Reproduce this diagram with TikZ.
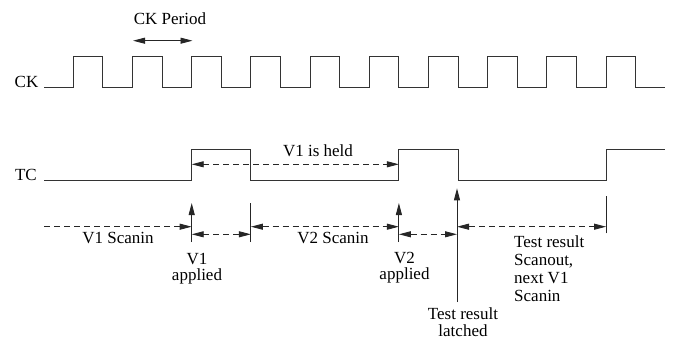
\documentclass[tikz,border=0pt]{standalone}
\usepackage{fontspec}
\setmainfont{Liberation Serif}
\usetikzlibrary{arrows.meta}
\begin{document}
\begin{tikzpicture}[x=1pt,y=-1pt,
  wave/.style={line width=0.9pt, draw=black!80},
  arr/.style={line width=0.9pt, draw=black!85, -{Triangle[length=12pt,width=6pt]}},
  plain/.style={line width=0.9pt, draw=black!85},
  dsh/.style={line width=0.9pt, draw=black!85, dash pattern=on 6pt off 4pt},
  both/.style={{Triangle[length=12pt,width=6pt]}-{Triangle[length=12pt,width=6pt]}},
  lbl/.style={font=\fontsize{17}{18}\selectfont, inner sep=0pt},
  ml/.style={inner sep=0pt, anchor=north, align=center, font=\fontsize{17}{#1}\selectfont}]
\useasboundingbox (0,0) rectangle (673,345);
% waveforms
\draw[wave] (44,87) \foreach \k in {0,...,9} { -- ({73.3+59.2*\k},87) -- ({73.3+59.2*\k},56) -- ({102.9+59.2*\k},56) -- ({102.9+59.2*\k},87) } -- (665,87);
\draw[wave] (44,180) -- (191.7,180) -- (191.7,149.3) -- (250.9,149.3) -- (250.9,180) -- (398.9,180) -- (398.9,149.3) -- (458.1,149.3) -- (458.1,180) -- (606.1,180) -- (606.1,149.3) -- (665,149.3);
% labels of signals
\node[lbl, anchor=base east] (ck) at (38.5,87.3) {CK};
\node[lbl, anchor=base east] (tc) at (37,180) {TC};
% CK period
\node[lbl, anchor=base] (ckp) at (170,25) {CK Period};
\coordinate (p1) at (133,40.7);
\coordinate (p2) at (192.5,40.7);
\draw[plain, both] (p1) -- (p2);
% V1 is held
\node[lbl, anchor=base] (held) at (318,156.5) {V1 is held};
\coordinate (h1) at (191.7,164.3);
\coordinate (h2) at (398.9,164.3);
\draw[dsh, both] (h1) -- (h2);
% coordinates on the lower row
\coordinate (s0) at (44,226.7);
\coordinate (s1) at (191.7,226.7);
\coordinate (s2) at (250.9,226.7);
\coordinate (s3) at (398.9,226.7);
\coordinate (s4) at (457,226.7);
\coordinate (s5) at (606.1,226.7);
\coordinate (a1) at (191.7,234.3);
\coordinate (a2) at (250.9,234.3);
\coordinate (a3) at (398.9,234.3);
\coordinate (a4) at (457,234.3);
% vertical markers
\coordinate (v1b) at (191.7,242);  \coordinate (v1t) at (191.7,203);
\coordinate (v2b) at (250.9,242);  \coordinate (v2t) at (250.9,203);
\coordinate (v3b) at (398.9,242);  \coordinate (v3t) at (398.9,203);
\coordinate (v4b) at (457,302);    \coordinate (v4t) at (457,188.3);
\coordinate (v5b) at (606.1,233.3);\coordinate (v5t) at (606.1,196);
\draw[arr] (v1b) -- (v1t);
\draw[plain] (v2b) -- (v2t);
\draw[arr] (v3b) -- (v3t);
\draw[arr] (v4b) -- (v4t);
\draw[plain] (v5b) -- (v5t);
% dashed intervals
\draw[dsh, -{Triangle[length=12pt,width=6pt]}] (s0) -- (s1);
\draw[dsh, both] (s2) -- (s3);
\draw[dsh, both] (s4) -- (s5);
\draw[dsh, both] (a1) -- (a2);
\draw[dsh, both] (a3) -- (a4);
% texts
\node[lbl, anchor=base] (v1s) at (118,243) {V1 Scanin};
\node[lbl, anchor=base] (v2s) at (333,243) {V2 Scanin};
\node[ml=15.5] (v1a) at (197,253.5) {V1\\applied};
\node[ml=15.8] (v2a) at (404.5,252) {V2\\applied};
\node[ml=17] (tl) at (463,307.2) {Test result\\latched};
\node[ml=18.3, anchor=north west, align=left] (ts) at (514,235.1) {Test result\\Scanout,\\next V1\\Scanin};
\end{tikzpicture}
\end{document}
